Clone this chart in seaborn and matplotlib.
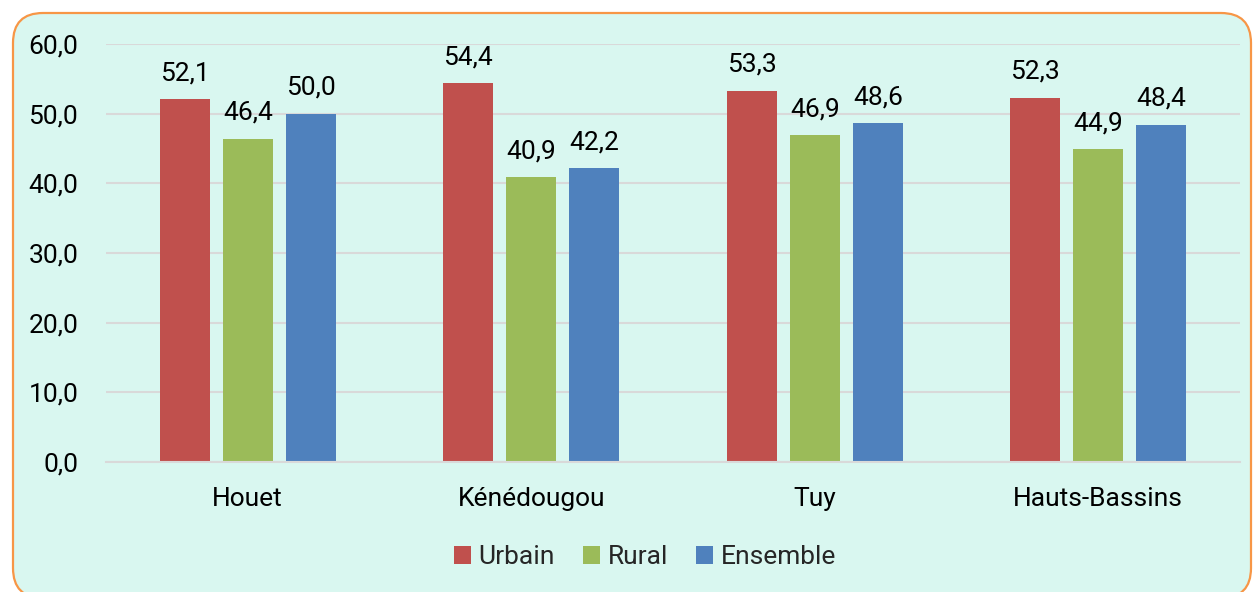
import matplotlib
matplotlib.use("Agg")
import matplotlib.pyplot as plt
from matplotlib.patches import FancyBboxPatch
from matplotlib.transforms import IdentityTransform
import seaborn as sns
import pandas as pd

regions = ["Houet", "Kénédougou", "Tuy", "Hauts-Bassins"]
series = ["Urbain", "Rural", "Ensemble"]
urbain = [52.1, 54.4, 53.3, 52.3]
rural = [46.4, 40.9, 46.9, 44.9]
ensemble = [50.0, 42.2, 48.6, 48.4]
yticks = [0, 10, 20, 30, 40, 50, 60]
colors = ["#C0504D", "#9BBB59", "#4F81BD"]

df = pd.DataFrame({
    "Région": regions * 3,
    "Milieu": [s for s in series for _ in regions],
    "Valeur": urbain + rural + ensemble,
})

sns.set_theme(style="white")
plt.rcParams["font.family"] = ["Roboto", "DejaVu Sans"]

FS = 19
W, H = 1253, 592
fig = plt.figure(figsize=(W / 100, H / 100), dpi=100)
fig.patch.set_facecolor("white")

box = FancyBboxPatch((13, -6), 1238, 585, boxstyle="round,pad=0,rounding_size=30",
                     transform=IdentityTransform(), facecolor="#D9F7F0",
                     edgecolor="#F79646", linewidth=1.6, zorder=-1)
fig.add_artist(box)

ax = fig.add_axes([106 / W, 130 / H, 1134 / W, 418 / H])
ax.patch.set_alpha(0)

sns.barplot(data=df, x="Région", y="Valeur", hue="Milieu", palette=colors,
            width=0.667, gap=0.2, saturation=1, ax=ax, errorbar=None, linewidth=0)

for cont in ax.containers:
    ax.bar_label(cont, labels=[f"{b.get_height():.1f}".replace(".", ",") for b in cont],
                 padding=10, fontsize=FS, color="black")

ax.set_xlim(-0.5, 3.5)
ax.set_ylim(0, 60)
ax.set_yticks(yticks)
ax.set_yticklabels([f"{v:.1f}".replace(".", ",") for v in yticks], fontsize=FS, color="black")
ax.tick_params(axis="x", labelsize=FS, labelcolor="black", length=0, pad=18)
ax.tick_params(axis="y", length=0, pad=20)
ax.yaxis.grid(True, color="#D9D9D9", linewidth=1.5)
ax.set_axisbelow(True)
for s in ["top", "right", "left"]:
    ax.spines[s].set_visible(False)
ax.spines["bottom"].set_color("#D9D9D9")
ax.spines["bottom"].set_linewidth(1.5)
ax.set_xlabel("")
ax.set_ylabel("")

handles, labels = ax.get_legend_handles_labels()
ax.legend(handles, labels, loc="center", bbox_to_anchor=(645 / W, 35 / H),
          bbox_transform=fig.transFigure, ncol=3, frameon=False, fontsize=FS,
          handlelength=0.65, handleheight=0.65, handletextpad=0.3, columnspacing=1.05)

fig.savefig("out.png", dpi=100)
